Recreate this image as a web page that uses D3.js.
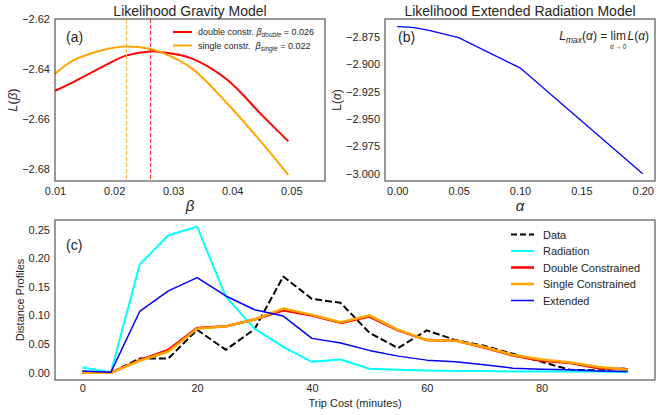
<!DOCTYPE html>
<html><head><meta charset="utf-8">
<script src="https://cdn.jsdelivr.net/npm/d3@7"></script>
<style>
body{margin:0;background:#fff;}
svg{display:block;}
text{font-family:"Liberation Sans",Arial,sans-serif;fill:#262626;}
</style></head><body>
<svg id="chart" width="664" height="415"></svg>
<script>
// ---------- data ----------
const betaGrid   = [0.010, 0.013, 0.019, 0.022, 0.026, 0.028, 0.033, 0.039, 0.045, 0.0495];
const likDouble  = [-2.6488, -2.6454, -2.6380, -2.6347, -2.6330, -2.6333, -2.6357, -2.6441, -2.6585, -2.6691];
const likSingle  = [-2.6421, -2.6367, -2.6319, -2.6310, -2.6319, -2.6334, -2.6395, -2.6535, -2.6696, -2.6826];
const betaDouble = 0.026;
const betaSingle = 0.022;
const betaTicks  = [0.01, 0.02, 0.03, 0.04, 0.05];
const likBetaTicks = [-2.62, -2.64, -2.66, -2.68];

const alphaGrid  = [0, 0.0125, 0.025, 0.05, 0.1, 0.2];
const likAlpha   = [-2.8658, -2.8665, -2.8689, -2.8759, -2.9034, -3.000];
const alphaTicks = [0.00, 0.05, 0.10, 0.15, 0.20];
const likAlphaTicks = [-2.875, -2.900, -2.925, -2.950, -2.975, -3.000];

const tripCost    = [0,5,10,15,20,25,30,35,40,45,50,55,60,65,70,75,80,85,90,95];
const dataProfile = [0.000,0.000,0.025,0.025,0.075,0.040,0.076,0.168,0.129,0.122,0.070,0.043,0.074,0.057,0.047,0.033,0.019,0.005,0.004,0.008];
const radiation   = [0.009,0.001,0.189,0.240,0.255,0.133,0.077,0.045,0.019,0.023,0.007,0.005,0.004,0.003,0.003,0.002,0.002,0.002,0.002,0.001];
const doubleConstr= [0.000,0.000,0.022,0.040,0.078,0.081,0.093,0.109,0.100,0.087,0.098,0.074,0.057,0.056,0.044,0.030,0.021,0.017,0.008,0.006];
const singleConstr= [0.000,0.000,0.021,0.037,0.077,0.081,0.093,0.112,0.101,0.088,0.100,0.075,0.057,0.056,0.045,0.031,0.023,0.018,0.010,0.005];
const extended    = [0.003,0.001,0.107,0.143,0.166,0.134,0.110,0.099,0.060,0.052,0.039,0.029,0.022,0.019,0.014,0.008,0.006,0.005,0.003,0.002];
const costTicks   = [0,20,40,60,80];
const profileTicks= [0.00,0.05,0.10,0.15,0.20,0.25];
const seriesNames = ["Data","Radiation","Double Constrained","Single Constrained","Extended"];

// ---------- helpers ----------
const svg = d3.select("#chart");
const FONT = 11;
const minus = s => s.replace("-", "\u2212");

function frame(g, x, y){
  const [x0,x1] = x.range(), [y1,y0] = y.range();
  g.append("rect").attr("x",x0).attr("y",y0).attr("width",x1-x0).attr("height",y1-y0)
    .attr("fill","none").attr("stroke","#555").attr("stroke-width",1.2);
}
function axes(g, x, y, xt, yt, xf, yf, xpad){
  const ax = g.append("g").attr("transform",`translate(0,${y.range()[0]})`)
    .call(d3.axisBottom(x).tickValues(xt).tickSize(0).tickPadding(xpad||6).tickFormat(xf));
  const ay = g.append("g").attr("transform",`translate(${x.range()[0]},0)`)
    .call(d3.axisLeft(y).tickValues(yt).tickSize(0).tickPadding(5).tickFormat(yf));
  [ax,ay].forEach(a=>{
    a.select(".domain").remove();
    a.selectAll("text").attr("font-size",FONT).attr("fill","#262626")
      .attr("font-family",'"Liberation Sans",Arial,sans-serif');
  });
}

// ---------- panel (a) ----------
const xa = d3.scaleLinear().domain([0.01, 0.0557]).range([55, 325]);
const ya = d3.scaleLinear().domain([-2.685, -2.62]).range([181, 19]);
const ga = svg.append("g");
const lineA = d3.line().x(d=>xa(d[0])).y(d=>ya(d[1])).curve(d3.curveCatmullRom);
ga.append("path").datum(betaGrid.map((b,i)=>[b,likDouble[i]])).attr("d",lineA)
  .attr("fill","none").attr("stroke","red").attr("stroke-width",2);
ga.append("path").datum(betaGrid.map((b,i)=>[b,likSingle[i]])).attr("d",lineA)
  .attr("fill","none").attr("stroke","orange").attr("stroke-width",2);
[[betaSingle,"#ffb733"],[betaDouble,"#ff3333"]].forEach(([b,c])=>{
  const px = Math.round(xa(b)) + 0.5;
  ga.append("line").attr("x1",px).attr("x2",px).attr("y1",ya.range()[1]).attr("y2",ya.range()[0])
    .attr("stroke",c).attr("stroke-width",1.1).attr("stroke-dasharray","4,2");
});
frame(ga, xa, ya);
axes(ga, xa, ya, betaTicks, likBetaTicks, d3.format(".2f"), d=>minus(d3.format(".2f")(d)));
ga.append("text").attr("x",190).attr("y",16).attr("text-anchor","middle").attr("font-size",14)
  .text("Likelihood Gravity Model");
ga.append("text").attr("x",66).attr("y",42).attr("font-size",14).text("(a)");
ga.append("text").attr("x",190).attr("y",211).attr("text-anchor","middle").attr("font-size",15)
  .attr("font-style","italic").text("β");
ga.append("text").attr("transform","translate(17,100) rotate(-90)").attr("text-anchor","middle")
  .attr("font-size",13).html('<tspan font-style="italic">L</tspan>(<tspan font-style="italic">β</tspan>)');
// legend (a)
const legA = [
  {c:"red", pre:"double constr. ", sub:"double", val:betaDouble},
  {c:"orange", pre:"single constr.  ", sub:"single", val:betaSingle}
];
legA.forEach((d,i)=>{
  const yy = 32 + i*13.5;
  ga.append("line").attr("x1",173).attr("x2",192).attr("y1",yy).attr("y2",yy)
    .attr("stroke",d.c).attr("stroke-width",2);
  const t = ga.append("text").attr("x",198).attr("y",yy+3).attr("font-size",9).attr("xml:space","preserve");
  t.append("tspan").text(d.pre);
  t.append("tspan").attr("font-style","italic").text("β");
  t.append("tspan").attr("font-style","italic").attr("font-size",6.5).attr("dy",2).text(d.sub);
  t.append("tspan").attr("dy",-2).text(" = " + d3.format(".3f")(d.val));
});

// ---------- panel (b) ----------
const xb = d3.scaleLinear().domain([-0.01, 0.21]).range([385, 655]);
const yb = d3.scaleLinear().domain([-3.0067, -2.8588]).range([181, 19]);
const gb = svg.append("g");
gb.append("path").datum(alphaGrid.map((a,i)=>[a,likAlpha[i]]))
  .attr("d", d3.line().x(d=>xb(d[0])).y(d=>yb(d[1])))
  .attr("fill","none").attr("stroke","blue").attr("stroke-width",1.3);
frame(gb, xb, yb);
axes(gb, xb, yb, alphaTicks, likAlphaTicks, d3.format(".2f"), d=>minus(d3.format(".3f")(d)));
gb.append("text").attr("x",520).attr("y",16).attr("text-anchor","middle").attr("font-size",14)
  .text("Likelihood Extended Radiation Model");
gb.append("text").attr("x",398).attr("y",42).attr("font-size",14).text("(b)");
gb.append("text").attr("x",520).attr("y",211).attr("text-anchor","middle").attr("font-size",15)
  .attr("font-style","italic").text("α");
gb.append("text").attr("transform","translate(341,100) rotate(-90)").attr("text-anchor","middle")
  .attr("font-size",12).html('L(<tspan font-style="italic">α</tspan>)');
// annotation L_max
(function(){
  const g = gb.append("g");
  let x = 0; const base = 40;
  function piece(txt, opts={}){
    const t = g.append("text").attr("x",x).attr("y",base+(opts.dy||0)).attr("font-size",opts.fs||12)
      .attr("font-style",opts.it?"italic":"normal").attr("xml:space","preserve").text(txt);
    const w = t.node().getComputedTextLength();
    x += w;
    return {t,w};
  }
  piece("L",{it:true});
  piece("max",{it:true,fs:8.5,dy:2.5});
  piece("(");
  piece("α",{it:true});
  piece(") = ");
  const limX = x;
  const lim = piece("lim");
  const sub = g.append("text").attr("y",base+9).attr("font-size",6.5).attr("text-anchor","middle")
    .html('<tspan font-style="italic">α</tspan>\u2009\u2192\u20090');
  const sw = sub.node().getComputedTextLength();
  sub.attr("x", limX + lim.w/2);
  x = Math.max(x, limX + lim.w/2 + sw/2) + 1;
  piece("L",{it:true});
  piece("(");
  piece("α",{it:true});
  piece(")");
  g.attr("transform",`translate(${649 - x},0)`);
})();

// ---------- panel (c) ----------
const xc = d3.scaleLinear().domain([-4.75, 99.75]).range([55, 655]);
const yc = d3.scaleLinear().domain([-0.0127, 0.2667]).range([380, 220]);
const gc = svg.append("g");
const series = [
  {name:seriesNames[0], vals:dataProfile, c:"black", w:2, dash:"7,3"},
  {name:seriesNames[1], vals:radiation, c:"cyan", w:2},
  {name:seriesNames[2], vals:doubleConstr, c:"red", w:2.5},
  {name:seriesNames[3], vals:singleConstr, c:"orange", w:2.5},
  {name:seriesNames[4], vals:extended, c:"blue", w:1.5}
];
const lineC = d3.line().x(d=>xc(d[0])).y(d=>yc(d[1]));
series.forEach(s=>{
  gc.append("path").datum(tripCost.map((t,i)=>[t,s.vals[i]])).attr("d",lineC)
    .attr("fill","none").attr("stroke",s.c).attr("stroke-width",s.w)
    .attr("stroke-dasharray",s.dash||null).attr("stroke-linejoin","round");
});
frame(gc, xc, yc);
axes(gc, xc, yc, costTicks, profileTicks, d3.format("d"), d3.format(".2f"), 4.5);
gc.append("text").attr("x",355).attr("y",407).attr("text-anchor","middle").attr("font-size",FONT)
  .text("Trip Cost (minutes)");
gc.append("text").attr("x",66).attr("y",250).attr("font-size",14).text("(c)");
gc.append("text").attr("transform","translate(24,300) rotate(-90)").attr("text-anchor","middle")
  .attr("font-size",FONT).text("Distance Profiles");
series.forEach((s,i)=>{
  const yy = 234.5 + i*16.5;
  gc.append("line").attr("x1",511).attr("x2",534).attr("y1",yy).attr("y2",yy)
    .attr("stroke",s.c).attr("stroke-width",s.w).attr("stroke-dasharray",s.dash?"6,3":null);
  gc.append("text").attr("x",543).attr("y",yy+4).attr("font-size",FONT).text(s.name);
});
</script>
</body></html>
